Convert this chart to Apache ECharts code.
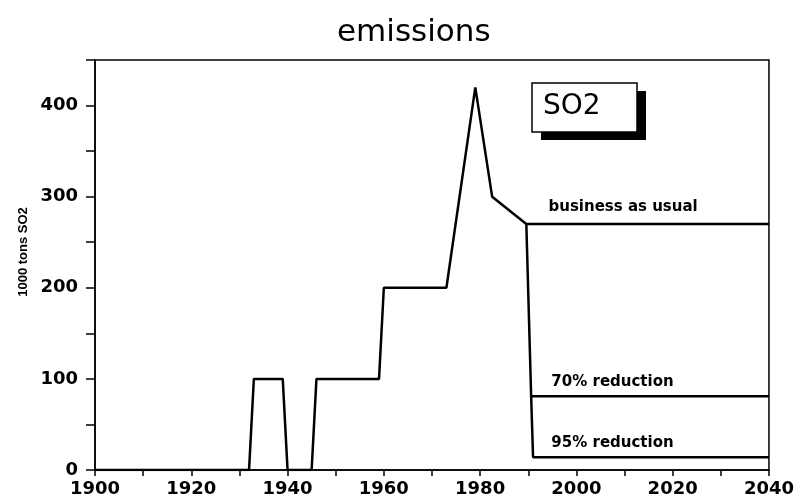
<!DOCTYPE html>
<html>
<head>
<meta charset="utf-8">
<script src="https://cdn.jsdelivr.net/npm/echarts@6/dist/echarts.min.js"></script>
<style>
  html, body { margin: 0; padding: 0; background: #fff; }
  #chart { width: 797px; height: 499px; }
</style>
</head>
<body>
<div id="chart"></div>
<script>
// historical emissions, continued as "business as usual"
var histYears = [1900, 1932, 1933, 1939, 1940, 1945, 1946, 1959, 1960, 1973, 1979, 1982.5, 1989.6, 2040]
var histValues = [0, 0, 100, 100, 0, 0, 100, 100, 200, 200, 420, 300, 270, 270]
// reduction scenarios
var red70Years = [1989.6, 1990.6, 2040]
var red70Values = [270, 81, 81]
var red95Years = [1990.6, 1991, 2040]
var red95Values = [81, 14, 14]
// scenario labels
var noteText = ['business as usual', '70% reduction', '95% reduction']
var noteYears = [1994.2, 1994.8, 1994.8]
var noteValues = [289, 97, 30]

var xLabelStep = 20
var yLabelStep = 100

function pairs(xs, ys) {
  var out = []
  for (var i = 0; i < xs.length; i++) out.push([xs[i], ys[i]])
  return out
}

var lineStyle = { color: '#000', width: 2.5 }
var noteLabel = {
  show: true,
  position: 'right',
  distance: 0,
  color: '#000',
  fontFamily: 'DejaVu Sans',
  fontWeight: 'bold',
  fontSize: 15
}

var notes = []
for (var i = 0; i < noteText.length; i++) {
  notes.push({ coord: [noteYears[i], noteValues[i]], value: noteText[i] })
}

var chart = echarts.init(document.getElementById('chart'), null, { renderer: 'canvas' })
chart.setOption({
  animation: false,
  backgroundColor: '#fff',
  title: {
    text: 'emissions',
    left: 332,
    top: 12,
    textStyle: { fontFamily: 'DejaVu Sans', fontWeight: 'normal', fontSize: 31, color: '#000' }
  },
  grid: {
    left: 95, right: 26, top: 60, bottom: 29,
    show: true, borderColor: '#000', borderWidth: 1.5, backgroundColor: 'transparent'
  },
  xAxis: {
    type: 'value',
    min: 1900,
    max: 2040,
    interval: 10,
    axisLine: { show: true, onZero: false, lineStyle: { color: '#000', width: 1.5 } },
    axisTick: { show: true, length: 6, lineStyle: { color: '#000', width: 1.5 } },
    splitLine: { show: false },
    axisLabel: {
      margin: 10,
      color: '#000',
      fontFamily: 'DejaVu Sans',
      fontWeight: 'bold',
      fontSize: 18,
      formatter: function (v) { return v % xLabelStep === 0 ? String(v) : '' }
    }
  },
  yAxis: {
    type: 'value',
    min: 0,
    max: 450,
    interval: 50,
    name: '1000 tons SO2',
    nameLocation: 'middle',
    nameRotate: 90,
    nameGap: 64,
    nameTextStyle: {
      fontFamily: '"Liberation Sans"',
      fontWeight: 'bold',
      fontSize: 13,
      color: '#000',
      padding: [0, 0, 0, 26]
    },
    axisLine: { show: true, lineStyle: { color: '#000', width: 1.5 } },
    axisTick: { show: true, length: 9, lineStyle: { color: '#000', width: 1.5 } },
    splitLine: { show: false },
    axisLabel: {
      margin: 17,
      color: '#000',
      fontFamily: 'DejaVu Sans',
      fontWeight: 'bold',
      fontSize: 18,
      formatter: function (v) { return v % yLabelStep === 0 && v < 450 ? String(v) : '' }
    }
  },
  series: [
    {
      type: 'line',
      data: pairs(histYears, histValues),
      showSymbol: false,
      lineStyle: lineStyle,
      markPoint: {
        symbol: 'circle',
        symbolSize: 0,
        label: noteLabel,
        data: notes
      }
    },
    {
      type: 'line',
      data: pairs(red70Years, red70Values),
      showSymbol: false,
      lineStyle: lineStyle
    },
    {
      type: 'line',
      data: pairs(red95Years, red95Values),
      showSymbol: false,
      lineStyle: lineStyle
    }
  ],
  graphic: [
    {
      type: 'rect',
      shape: { x: 541, y: 91, width: 105, height: 49 },
      style: { fill: '#000' },
      z: 100
    },
    {
      type: 'rect',
      shape: { x: 532, y: 83, width: 105, height: 49 },
      style: { fill: '#fff', stroke: '#000', lineWidth: 1.5 },
      z: 101
    },
    {
      type: 'text',
      x: 543,
      y: 107,
      style: {
        text: 'SO2',
        fill: '#000',
        font: 'normal 28px "DejaVu Sans"',
        textVerticalAlign: 'middle',
        verticalAlign: 'middle'
      },
      z: 102
    }
  ]
})
</script>
</body>
</html>
